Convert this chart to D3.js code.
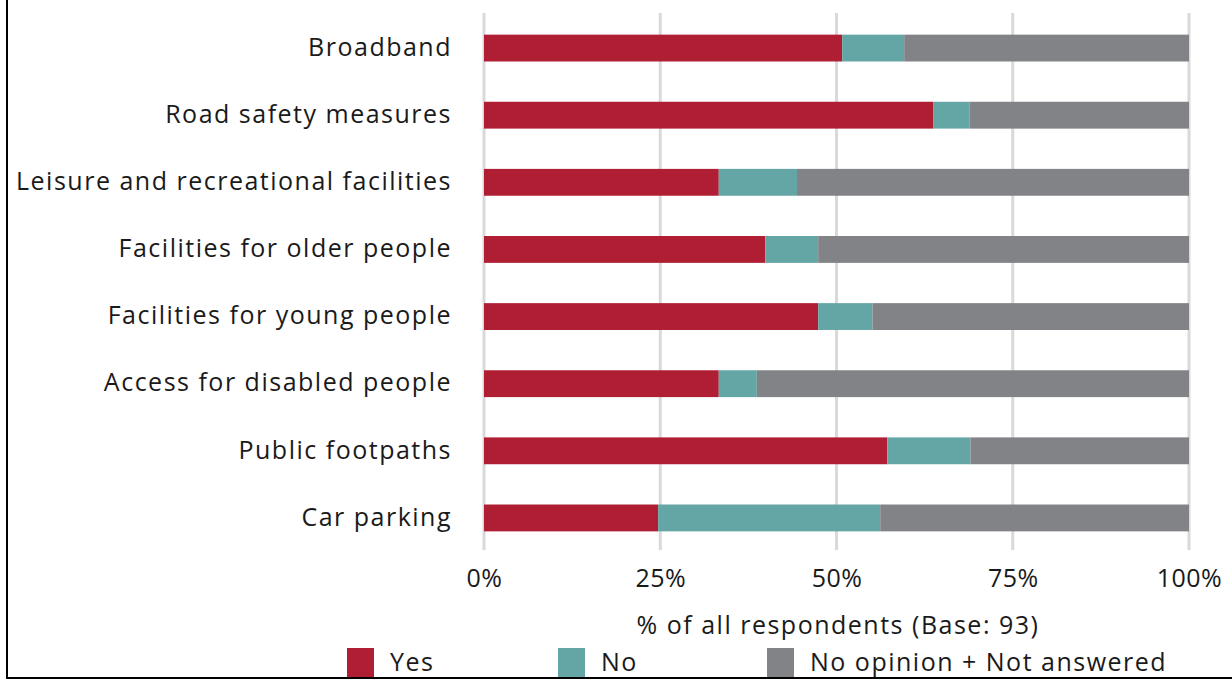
<!DOCTYPE html>
<html><head><meta charset="utf-8">
<script src="https://cdn.jsdelivr.net/npm/d3@7"></script>
<style>body{margin:0;background:#fff}svg{display:block}text{font-family:"Open Sans",sans-serif;fill:#1a1a1a}</style>
</head><body><svg id="c" width="1232" height="680"></svg>
<script>
const categories = ["Broadband","Road safety measures","Leisure and recreational facilities","Facilities for older people","Facilities for young people","Access for disabled people","Public footpaths","Car parking"];
const yesValues = [50.8, 63.7, 33.3, 39.9, 47.4, 33.3, 57.2, 24.7];
const noValues = [8.8, 5.2, 11.1, 7.5, 7.7, 5.4, 11.8, 31.5];
const otherValues = [40.4, 31.1, 55.6, 52.6, 44.9, 61.3, 31.0, 43.8];
const seriesNames = ["Yes","No","No opinion + Not answered"];
const tickValues = [0, 25, 50, 75, 100];
const axisTitle = "% of all respondents (Base: 93)";
const colors = ["#B01E34", "#64A6A6", "#828387"];

const svg = d3.select("#c");
svg.append("rect").attr("x",7).attr("y",-10).attr("width",1240).attr("height",688)
  .attr("fill","#fff").attr("stroke","#000").attr("stroke-width",2);

const x = d3.scaleLinear().domain([0,100]).range([484,1189]);
const y = d3.scaleBand().domain(categories).range([14.5,551.5]).paddingInner(0.6).paddingOuter(0.3);

// gridlines
svg.append("g").selectAll("line").data(tickValues).join("line")
  .attr("x1",d=>x(d)).attr("x2",d=>x(d)).attr("y1",13).attr("y2",550)
  .attr("stroke","#d9d9d9").attr("stroke-width",3);

const table = categories.map((c,i)=>({cat:c, Yes:yesValues[i], No:noValues[i], "No opinion + Not answered":otherValues[i]}));
const stack = d3.stack().keys(seriesNames)(table);

svg.append("g").selectAll("g").data(stack).join("g").attr("fill",(d,i)=>colors[i])
  .selectAll("rect").data(d=>d).join("rect")
  .attr("x",d=>x(d[0])).attr("width",d=>x(d[1])-x(d[0]))
  .attr("y",d=>y(d.data.cat)).attr("height",y.bandwidth());

const FS = 25, LS = 1.5;
// category labels
const yAxis = d3.axisLeft(y).tickSize(0).tickPadding(0);
const gy = svg.append("g").attr("transform","translate(452,-1)").call(yAxis);
gy.select(".domain").remove();
gy.selectAll("text").attr("font-size",FS).attr("letter-spacing",LS).attr("font-family","'Open Sans',sans-serif").attr("fill","#1a1a1a").attr("dy","0.35em");

// x axis
const xAxis = d3.axisBottom(x).tickValues(tickValues).tickFormat(d=>d+"%").tickSize(0).tickPadding(0);
const gx = svg.append("g").attr("transform","translate(0,578)").call(xAxis);
gx.select(".domain").remove();
gx.selectAll("text").attr("font-size",FS).attr("letter-spacing",0.5).attr("font-family","'Open Sans',sans-serif").attr("fill","#1a1a1a").attr("dy","0.35em");

svg.append("text").attr("x",838).attr("y",625).attr("dy","0.35em").attr("text-anchor","middle")
  .attr("font-size",FS).attr("letter-spacing",LS).text(axisTitle);

// legend
const legX = [347, 558, 767];
const lg = svg.append("g").selectAll("g").data(seriesNames).join("g")
  .attr("transform",(d,i)=>`translate(${legX[i]},648)`);
lg.append("rect").attr("width",27).attr("height",29).attr("fill",(d,i)=>colors[i]);
lg.append("text").attr("x",43).attr("y",14).attr("dy","0.35em").attr("font-size",FS).attr("letter-spacing",LS).text(d=>d);
</script></body></html>
